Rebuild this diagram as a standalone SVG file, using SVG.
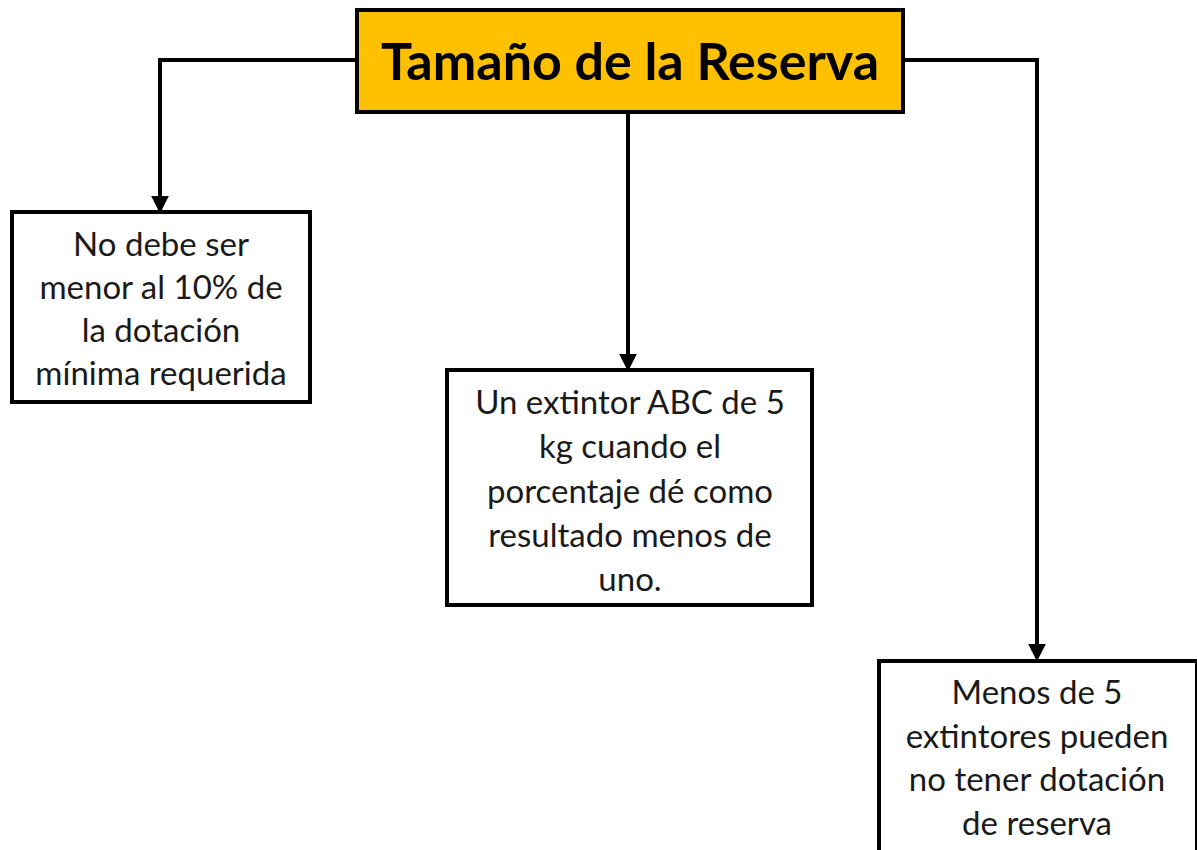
<svg xmlns="http://www.w3.org/2000/svg" width="1197" height="850" viewBox="0 0 1197 850">
<style>
.box{fill:#fff;stroke:#000;stroke-width:4}
.title{fill:#FFC000;stroke:#000;stroke-width:4}
.t{font-family:Lato,"Open Sans",sans-serif;font-size:33px;fill:#1a1a1a;text-anchor:middle}
.h{font-family:Lato,"Open Sans",sans-serif;font-size:52px;font-weight:bold;fill:#000;text-anchor:middle}
.c{fill:none;stroke:#000;stroke-width:4}
</style>
<defs>
<marker id="a" markerWidth="4.5" markerHeight="4.5" refX="3.6" refY="2.25" orient="auto" markerUnits="strokeWidth">
<path d="M0,0 L4.5,2.25 L0,4.5 Z" fill="#000"/>
</marker>
</defs>
<rect width="1197" height="850" fill="#fff"/>
<g id="connectors">
<path class="c" d="M357,60 H160 V210" marker-end="url(#a)"/>
<path class="c" d="M628,112 V368" marker-end="url(#a)"/>
<path class="c" d="M903,60 H1037 V658" marker-end="url(#a)"/>
</g>
<g id="root">
<rect class="title" x="357" y="10" width="546" height="102"/>
<text class="h" x="630" y="80">Tamaño de la Reserva</text>
</g>
<g id="n1">
<rect class="box" x="12" y="212" width="298" height="190"/>
<text class="t" x="161" y="256">No debe ser</text>
<text class="t" x="161" y="299">menor al 10% de</text>
<text class="t" x="161" y="342">la dotación</text>
<text class="t" x="161" y="385">mínima requerida</text>
</g>
<g id="n2">
<rect class="box" x="447" y="370" width="365" height="235"/>
<text class="t" x="630" y="414">Un extintor ABC de 5</text>
<text class="t" x="630" y="458">kg cuando el</text>
<text class="t" x="630" y="503">porcentaje dé como</text>
<text class="t" x="630" y="547">resultado menos de</text>
<text class="t" x="630" y="591">uno.</text>
</g>
<g id="n3">
<rect class="box" x="879" y="661" width="318" height="200"/>
<text class="t" x="1037" y="704">Menos de 5</text>
<text class="t" x="1037" y="748">extintores pueden</text>
<text class="t" x="1037" y="791">no tener dotación</text>
<text class="t" x="1037" y="835">de reserva</text>
</g>
</svg>
